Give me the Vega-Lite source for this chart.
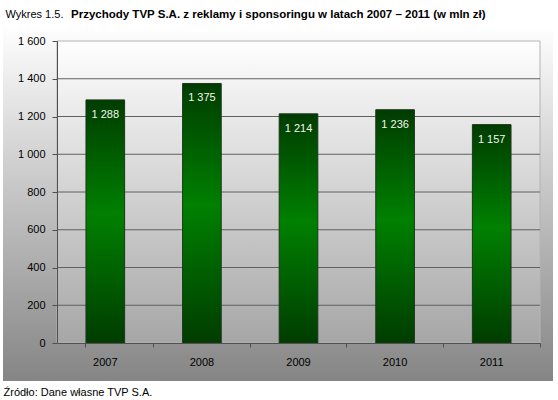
{
  "$schema": "https://vega.github.io/schema/vega-lite/v6.json",
  "description": "Przychody TVP S.A. z reklamy i sponsoringu 2007-2011",
  "width": 550,
  "height": 356,
  "autosize": {"type": "none"},
  "padding": {"left": 3, "top": 25, "right": 5, "bottom": 19},
  "title": {
    "text": "Przychody TVP S.A. z reklamy i sponsoringu w latach 2007 – 2011 (w mln zł)",
    "anchor": "start",
    "frame": "group",
    "dx": 68,
    "fontSize": 11.5,
    "fontWeight": "bold",
    "baseline": "alphabetic",
    "offset": -21,
    "color": "#000000"
  },
  "view": {
    "fill": {
      "gradient": "linear", "x1": 0, "y1": 0, "x2": 0, "y2": 1,
      "stops": [{"offset": 0, "color": "#ffffff"}, {"offset": 1, "color": "#858585"}]
    },
    "stroke": null
  },
  "data": {
    "values": [
      {"rok": "2007", "przychody": 1288},
      {"rok": "2008", "przychody": 1375},
      {"rok": "2009", "przychody": 1214},
      {"rok": "2010", "przychody": 1236},
      {"rok": "2011", "przychody": 1157}
    ]
  },
  "layer": [
    {
      "data": {"values": [{}]},
      "mark": {
        "type": "rect",
        "fill": {
          "gradient": "linear", "x1": 0, "y1": 0, "x2": 0, "y2": 1,
          "stops": [{"offset": 0, "color": "#ffffff"}, {"offset": 1, "color": "#a6a6a6"}]
        },
        "stroke": "#b4b4b4",
        "strokeWidth": 1
      },
      "encoding": {
        "x": {"datum": 0, "type": "quantitative", "scale": {"domain": [0, 1], "range": [54, 537]}, "axis": null},
        "x2": {"datum": 1},
        "y": {"datum": 0, "type": "quantitative"},
        "y2": {"datum": 1600}
      }
    },
    {
      "data": {"values": [{"v": 200}, {"v": 400}, {"v": 600}, {"v": 800}, {"v": 1000}, {"v": 1200}, {"v": 1400}]},
      "mark": {"type": "rule", "color": "#606060", "strokeWidth": 1},
      "encoding": {
        "x": {"datum": 0, "type": "quantitative", "scale": {"domain": [0, 1], "range": [54, 537]}, "axis": null},
        "x2": {"datum": 1},
        "y": {"field": "v", "type": "quantitative"}
      }
    },
    {
      "encoding": {
        "x": {
          "field": "rok",
          "type": "nominal",
          "scale": {"range": [54, 537], "paddingInner": 0.6, "paddingOuter": 0.3},
          "axis": {
            "offset": -38,
            "title": "Źródło: Dane własne TVP S.A.",
            "titleX": 0,
            "titleY": 52,
            "titleAlign": "left",
            "titleBaseline": "alphabetic",
            "titleFontWeight": "normal",
            "titleFontSize": 11,
            "titleColor": "#000000",
            "labelAngle": 0,
            "labelPadding": 9,
            "labelFontSize": 11,
            "labelColor": "#000000",
            "tickSize": 4,
            "bandPosition": 1.75,
            "tickExtra": true,
            "domainColor": "#505050",
            "tickColor": "#505050",
            "zindex": 1
          }
        },
        "y": {
          "field": "przychody",
          "type": "quantitative",
          "scale": {"domain": [0, 1600], "range": [318, 16], "nice": false, "zero": true},
          "axis": {
            "values": [0, 200, 400, 600, 800, 1000, 1200, 1400, 1600],
            "format": ",d",
            "offset": -54,
            "grid": false,
            "title": "Wykres 1.5.",
            "titleAngle": 0,
            "titleAlign": "left",
            "titleBaseline": "alphabetic",
            "titleX": -52,
            "titleY": -8,
            "titleFontWeight": "normal",
            "titleFontSize": 11,
            "titleColor": "#000000",
            "labelPadding": 7,
            "labelFontSize": 11,
            "labelColor": "#000000",
            "tickSize": 5,
            "domainColor": "#505050",
            "tickColor": "#505050",
            "zindex": 1
          }
        }
      },
      "layer": [
        {
          "mark": {
            "type": "bar",
            "fill": {
              "gradient": "linear", "x1": 0, "y1": 0, "x2": 0, "y2": 1,
              "stops": [
                {"offset": 0, "color": "#003c00"},
                {"offset": 0.47, "color": "#008000"},
                {"offset": 1, "color": "#003c00"}
              ]
            },
            "stroke": "#1c361c",
            "strokeWidth": 1
          }
        },
        {
          "mark": {"type": "text", "color": "#f5f5ef", "fontSize": 11, "baseline": "middle", "dy": 15},
          "encoding": {
            "text": {"field": "przychody", "type": "quantitative", "format": ",d"}
          }
        }
      ]
    }
  ],
  "resolve": {"scale": {"x": "independent"}, "axis": {"x": "independent"}},
  "config": {
    "font": "Liberation Sans",
    "locale": {
      "number": {"decimal": ",", "thousands": "\u00a0", "grouping": [3], "currency": ["", " zł"]}
    }
  }
}
